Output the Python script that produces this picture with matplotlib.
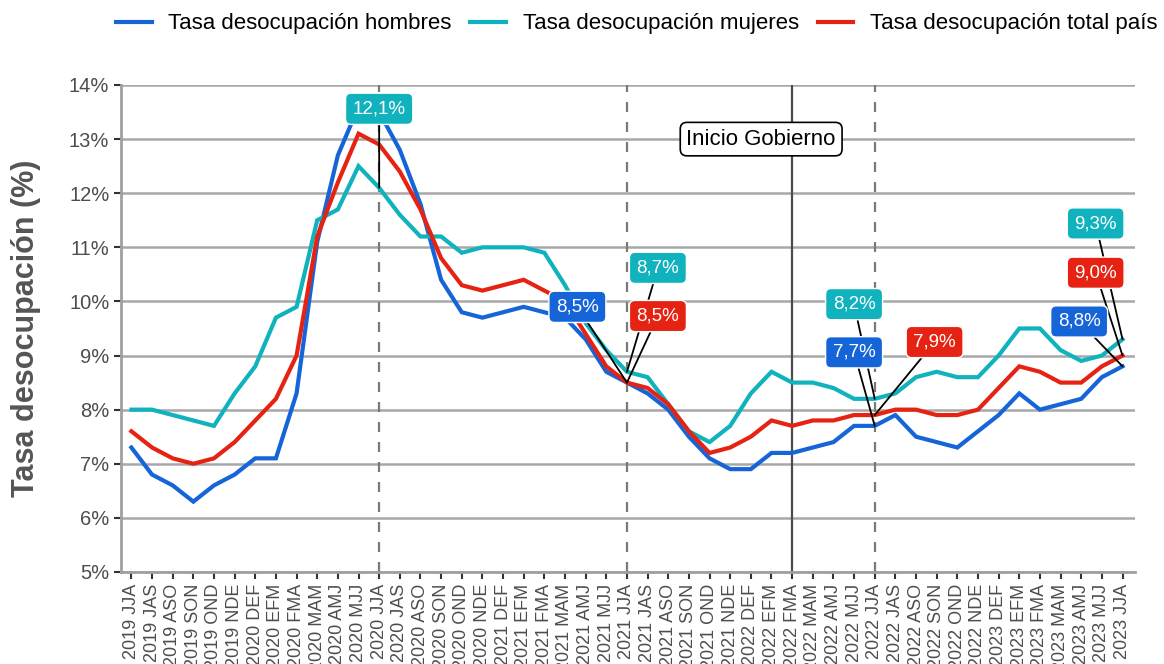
import numpy as np
import matplotlib
matplotlib.use('Agg')
import matplotlib.pyplot as plt

plt.rcParams['font.family'] = ['Liberation Sans', 'DejaVu Sans']

periods = ['2019 JJA', '2019 JAS', '2019 ASO', '2019 SON', '2019 OND', '2019 NDE',
           '2020 DEF', '2020 EFM', '2020 FMA', '2020 MAM', '2020 AMJ', '2020 MJJ',
           '2020 JJA', '2020 JAS', '2020 ASO', '2020 SON', '2020 OND', '2020 NDE',
           '2021 DEF', '2021 EFM', '2021 FMA', '2021 MAM', '2021 AMJ', '2021 MJJ',
           '2021 JJA', '2021 JAS', '2021 ASO', '2021 SON', '2021 OND', '2021 NDE',
           '2022 DEF', '2022 EFM', '2022 FMA', '2022 MAM', '2022 AMJ', '2022 MJJ',
           '2022 JJA', '2022 JAS', '2022 ASO', '2022 SON', '2022 OND', '2022 NDE',
           '2023 DEF', '2023 EFM', '2023 FMA', '2023 MAM', '2023 AMJ', '2023 MJJ',
           '2023 JJA']

hombres = [7.3, 6.8, 6.6, 6.3, 6.6, 6.8, 7.1, 7.1, 8.3, 11.1, 12.7, 13.6, 13.5,
           12.8, 11.8, 10.4, 9.8, 9.7, 9.8, 9.9, 9.8, 9.7, 9.3, 8.7, 8.5, 8.3,
           8.0, 7.5, 7.1, 6.9, 6.9, 7.2, 7.2, 7.3, 7.4, 7.7, 7.7, 7.9, 7.5, 7.4,
           7.3, 7.6, 7.9, 8.3, 8.0, 8.1, 8.2, 8.6, 8.8]
mujeres = [8.0, 8.0, 7.9, 7.8, 7.7, 8.3, 8.8, 9.7, 9.9, 11.5, 11.7, 12.5, 12.1,
           11.6, 11.2, 11.2, 10.9, 11.0, 11.0, 11.0, 10.9, 10.3, 9.6, 9.1, 8.7,
           8.6, 8.1, 7.6, 7.4, 7.7, 8.3, 8.7, 8.5, 8.5, 8.4, 8.2, 8.2, 8.3, 8.6,
           8.7, 8.6, 8.6, 9.0, 9.5, 9.5, 9.1, 8.9, 9.0, 9.3]
total = [7.6, 7.3, 7.1, 7.0, 7.1, 7.4, 7.8, 8.2, 9.0, 11.2, 12.2, 13.1, 12.9,
         12.4, 11.7, 10.8, 10.3, 10.2, 10.3, 10.4, 10.2, 10.0, 9.4, 8.8, 8.5,
         8.4, 8.1, 7.6, 7.2, 7.3, 7.5, 7.8, 7.7, 7.8, 7.8, 7.9, 7.9, 8.0, 8.0,
         7.9, 7.9, 8.0, 8.4, 8.8, 8.7, 8.5, 8.5, 8.8, 9.0]

names = ['Tasa desocupación hombres', 'Tasa desocupación mujeres',
         'Tasa desocupación total país']
colors = ['#1565d8', '#10b2bd', '#e62312']

dashed_marks = ['2020 JJA', '2021 JJA', '2022 JJA']
gobierno = '2022 FMA'

x = np.arange(len(periods))
series = [hombres, mujeres, total]

fig = plt.figure(figsize=(11.64, 6.64), dpi=100)
ax = fig.add_axes([0.104, 0.1386, 0.871, 0.7334])

# grid and reference lines
for v in range(5, 15):
    ax.axhline(v, color='#a8a8a8', lw=1.8, zorder=0)
for p in dashed_marks:
    ax.axvline(periods.index(p), color='#7a7a7a', lw=1.6,
               linestyle=(0, (4.5, 4.5)), zorder=1)
ax.axvline(periods.index(gobierno), color='#4d4d4d', lw=1.6, zorder=1)

for ys, name, c in zip(series, names, colors):
    ax.plot(x, ys, color=c, lw=3, label=name, zorder=3, solid_joinstyle='miter')

ax.text(30.5, 13.0, 'Inicio Gobierno', fontsize=16, ha='center', va='center',
        bbox=dict(boxstyle='round,pad=0.28,rounding_size=0.3', fc='white',
                  ec='black', lw=1.2), zorder=5)

# labels: (series index, point index, label x, label y)
labels = [(1, 12, 12.0, 13.56),
          (0, 24, 21.6, 9.9),
          (1, 24, 25.5, 10.62),
          (2, 24, 25.5, 9.73),
          (1, 36, 35.0, 9.95),
          (0, 36, 35.0, 9.06),
          (2, 36, 38.9, 9.25),
          (1, 48, 46.7, 11.44),
          (2, 48, 46.7, 10.53),
          (0, 48, 45.9, 9.63)]
for s, i, tx, ty in labels:
    val = series[s][i]
    txt = f'{val:.1f}%'.replace('.', ',')
    ax.annotate(txt, xy=(i, val), xytext=(tx, ty), fontsize=13.5, color='white',
                ha='center', va='center', zorder=6,
                bbox=dict(boxstyle='round,pad=0.38,rounding_size=0.3',
                          fc=colors[s], ec='white', lw=1),
                arrowprops=dict(arrowstyle='-', color='black', lw=1.3,
                                shrinkA=0, shrinkB=0))

ax.set_xlim(-0.5, 48.6)
ax.set_ylim(5, 14)
ax.set_yticks(range(5, 15))
ax.set_yticklabels([f'{v}%' for v in range(5, 15)], fontsize=14.5, color='#4d4d4d')
ax.set_xticks(x)
ax.set_xticklabels(periods, rotation=90, fontsize=13, color='#4d4d4d')
ax.tick_params(axis='both', colors='#333333', length=5, width=1.5)
for lab in ax.get_xticklabels() + ax.get_yticklabels():
    lab.set_color('#4d4d4d')

for side in ['top', 'right']:
    ax.spines[side].set_visible(False)
for side in ['left', 'bottom']:
    ax.spines[side].set_color('#a0a0a0')
    ax.spines[side].set_linewidth(2)

fig.text(0.022, 0.506, 'Tasa desocupación (%)', rotation=90, fontsize=22,
         fontweight='bold', color='#555555', ha='center', va='center')

fig.legend(loc='upper center', bbox_to_anchor=(0.547, 1.01), ncol=3, frameon=False,
           fontsize=16, handlelength=1.6, handletextpad=0.75, columnspacing=0.85)

fig.savefig('out.png', dpi=100)
